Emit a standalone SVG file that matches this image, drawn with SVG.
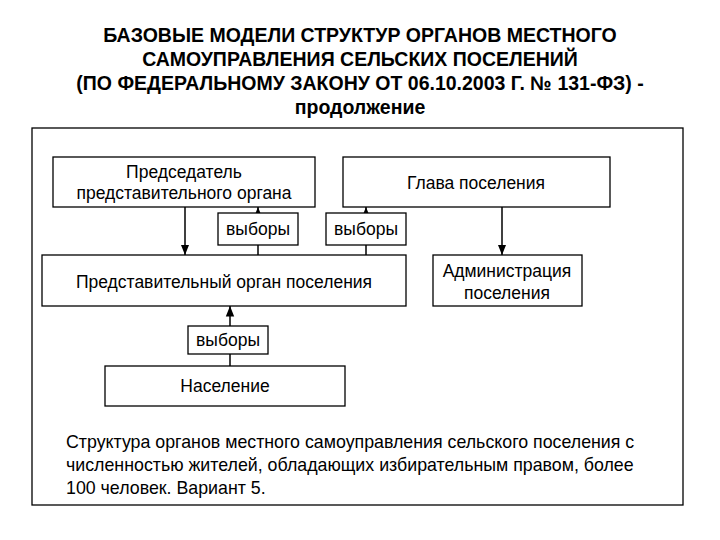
<svg xmlns="http://www.w3.org/2000/svg" width="720" height="540" viewBox="0 0 720 540">
<defs><marker id="a" viewBox="0 0 10 10" refX="10" refY="5" markerWidth="7" markerHeight="7" orient="auto"><path d="M0,1 L10,5 L0,9 z" fill="#000"/></marker></defs>
<style>text{font-family:"Liberation Sans",Arial,sans-serif;fill:#000}.b{fill:#fff;stroke:#000;stroke-width:1.3}.t{font-size:17.5px;text-anchor:middle}.h{font-size:19.5px;font-weight:bold;text-anchor:middle}.l{stroke:#000;stroke-width:1.5;fill:none}.c{font-size:17.8px}</style>
<rect width="720" height="540" fill="#fff"/>
<g id="title"><text class="h" x="360" y="42">БАЗОВЫЕ МОДЕЛИ СТРУКТУР ОРГАНОВ МЕСТНОГО</text><text class="h" x="360" y="66">САМОУПРАВЛЕНИЯ СЕЛЬСКИХ ПОСЕЛЕНИЙ</text><text class="h" x="360" y="90">(ПО ФЕДЕРАЛЬНОМУ ЗАКОНУ ОТ 06.10.2003 Г. № 131-ФЗ) -</text><text class="h" x="360" y="114">продолжение</text></g>
<rect x="32" y="128" width="651" height="377" fill="none" stroke="#000" stroke-width="1.3"/>
<g id="connectors">
<line class="l" x1="185" y1="207" x2="185" y2="255" marker-end="url(#a)"/>
<line class="l" x1="258" y1="255" x2="258" y2="245"/><line class="l" x1="258" y1="213" x2="258" y2="207" marker-end="url(#a)"/>
<line class="l" x1="366" y1="255" x2="366" y2="245"/><line class="l" x1="366" y1="213" x2="366" y2="207" marker-end="url(#a)"/>
<line class="l" x1="502" y1="207" x2="502" y2="255" marker-end="url(#a)"/>
<line class="l" x1="230" y1="366" x2="230" y2="354"/><line class="l" x1="230" y1="326" x2="230" y2="306" marker-end="url(#a)"/>
</g>
<g id="chair"><rect class="b" x="53" y="157" width="262" height="50"/><text class="t" x="184" y="178">Председатель</text><text class="t" x="184" y="199">представительного органа</text></g>
<g id="head"><rect class="b" x="343" y="157" width="267" height="50"/><text class="t" x="476" y="189">Глава поселения</text></g>
<g id="v1"><rect class="b" x="218" y="213" width="80" height="32"/><text class="t" x="258" y="235">выборы</text></g>
<g id="v2"><rect class="b" x="326" y="213" width="80" height="32"/><text class="t" x="366" y="235">выборы</text></g>
<g id="rep"><rect class="b" x="42" y="255" width="364" height="51"/><text class="t" x="224" y="288">Представительный орган поселения</text></g>
<g id="adm"><rect class="b" x="433" y="255" width="149" height="51"/><text class="t" x="507" y="277">Администрация</text><text class="t" x="507" y="299">поселения</text></g>
<g id="v3"><rect class="b" x="188" y="326" width="80" height="28"/><text class="t" x="228" y="346">выборы</text></g>
<g id="pop"><rect class="b" x="105" y="366" width="240" height="40"/><text class="t" x="225" y="392">Население</text></g>
<g id="caption"><text class="c" x="66" y="448">Структура органов местного самоуправления сельского поселения с</text><text class="c" x="66" y="471">численностью жителей, обладающих избирательным правом, более</text><text class="c" x="66" y="494">100 человек. Вариант 5.</text></g>
</svg>
